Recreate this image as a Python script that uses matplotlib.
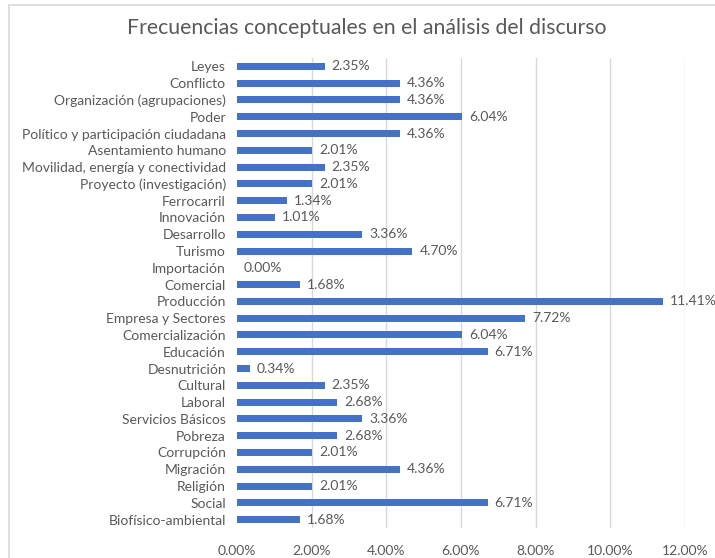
import matplotlib
matplotlib.use("Agg")
import matplotlib.pyplot as plt
from matplotlib.patches import Rectangle

categories = ["Leyes", "Conflicto", "Organización (agrupaciones)", "Poder",
              "Político y participación ciudadana", "Asentamiento humano",
              "Movilidad, energía y conectividad", "Proyecto (investigación)",
              "Ferrocarril", "Innovación", "Desarrollo", "Turismo", "Importación",
              "Comercial", "Producción", "Empresa y Sectores", "Comercialización",
              "Educación", "Desnutrición", "Cultural", "Laboral", "Servicios Básicos",
              "Pobreza", "Corrupción", "Migración", "Religión", "Social",
              "Biofísico-ambiental"]
values = [2.35, 4.36, 4.36, 6.04, 4.36, 2.01, 2.35, 2.01, 1.34, 1.01, 3.36, 4.70, 0.00,
          1.68, 11.41, 7.72, 6.04, 6.71, 0.34, 2.35, 2.68, 3.36, 2.68, 2.01, 4.36, 2.01,
          6.71, 1.68]
xticks = [0, 2, 4, 6, 8, 10, 12]

plt.rcParams['font.family'] = ['Lato', 'DejaVu Sans']
TXT = '#595959'
W, H = 715, 558
fig = plt.figure(figsize=(W/100, H/100), dpi=100)
ax = fig.add_axes([237/W, 1-528/H, (685-237)/W, (528-58)/H])

n = len(categories)
ypos = list(range(n))[::-1]
ax.barh(ypos, values, height=0.42, color='#4472C4', zorder=3)
for y, v in zip(ypos, values):
    ax.annotate(f"{v:.2f}%", (v, y), xytext=(5, 0), textcoords='offset points',
                va='center', ha='left', fontsize=10, color=TXT, annotation_clip=False)

ax.set_xlim(0, 12)
ax.set_ylim(-0.5, n - 0.5)
ax.set_yticks(ypos)
ax.set_yticklabels(categories, fontsize=10, color=TXT)
ax.set_xticks(xticks)
ax.set_xticklabels([f"{t:.2f}%" for t in xticks], fontsize=10, color=TXT)
ax.tick_params(length=0, axis='y', pad=8)
ax.tick_params(length=0, axis='x', pad=12)
for s in ax.spines.values():
    s.set_visible(False)
for t in xticks[1:]:
    ax.axvline(t, color='#d9d9d9', lw=1, zorder=0)

fig.text(367/W, 1-28/H, "Frecuencias conceptuales en el análisis del discurso",
         ha='center', va='center', fontsize=15.3, color=TXT)

fig.patches.append(Rectangle((9/W, -0.1), 1.2, 1-5/H+0.1, transform=fig.transFigure,
                             fill=False, edgecolor='#d9d9d9', lw=1.2))

fig.savefig("out.png", dpi=100)
